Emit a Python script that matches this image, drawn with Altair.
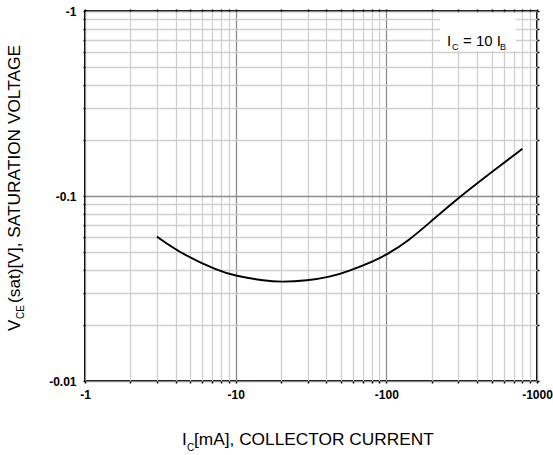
import altair as alt
import pandas as pd

# ---- data ----
IC_MA = [-3, -4.5, -7.5, -10, -15, -20, -30, -42, -57, -82, -100, -140, -200, -300, -500, -800]
VCE_SAT = [-0.0603, -0.048, -0.0398, -0.0369, -0.0350, -0.0342, -0.0349, -0.0364, -0.0394,
           -0.0444, -0.0480, -0.0571, -0.0735, -0.0975, -0.1346, -0.180]

X_GRID = [1, 2, 3, 4, 5, 6, 7, 8, 9, 10, 20, 30, 40, 50, 60, 70, 80, 90,
          100, 200, 300, 400, 500, 600, 700, 800, 900, 1000]
Y_GRID = [0.01, 0.02, 0.03, 0.04, 0.05, 0.06, 0.07, 0.08, 0.09, 0.1,
          0.2, 0.3, 0.4, 0.5, 0.6, 0.7, 0.8, 0.9, 1]
X_DECADES = [1, 10, 100, 1000]
X_TICK_LABELS = ["-1", "-10", "-100", "-1000"]
Y_DECADES = [0.01, 0.1, 1]
Y_TICK_LABELS = ["-0.01", "-0.1", "-1"]

df = pd.DataFrame({"ic": IC_MA, "vce": VCE_SAT})

W, H = 452, 370
FONT = "Liberation Sans"


def label_expr(decades, labels):
    expr = "''"
    for d, l in zip(decades, labels):
        expr = f"datum.value == {d} ? '{l}' : ({expr})"
    return expr


def grid_color(decades):
    return {"condition": {"test": f"indexof({list(decades)}, datum.value) >= 0", "value": "#8c8c8c"},
            "value": "#cfcfcf"}


xs = alt.Scale(type="log", domain=[1, 1000], nice=False)
ys = alt.Scale(type="log", domain=[0.01, 1], nice=False)

xaxis = alt.Axis(values=X_GRID, grid=True, gridColor=grid_color(X_DECADES), gridWidth=1.3,
                 labelExpr=label_expr(X_DECADES, X_TICK_LABELS), labelFont=FONT, labelFontSize=12,
                 labelFontWeight="bold", labelColor="black", labelPadding=6, labelFlush=False,
                 labelOverlap=False, ticks=True, tickSize=2, tickColor="black", tickWidth=1.5,
                 domain=False, title=None)
yaxis = alt.Axis(values=Y_GRID, grid=True, gridColor=grid_color(Y_DECADES), gridWidth=1.3,
                 labelExpr=label_expr(Y_DECADES, Y_TICK_LABELS), labelFont=FONT, labelFontSize=12,
                 labelFontWeight="bold", labelColor="black", labelPadding=7, labelFlush=False,
                 labelOverlap=False, ticks=True, tickSize=2, tickColor="black", tickWidth=1.5,
                 domain=False, title=None)

base = alt.Chart(df).transform_calculate(x="abs(datum.ic)", y="abs(datum.vce)")

line = base.mark_line(color="black", strokeWidth=1.9, interpolate="basis").encode(
    x=alt.X("x:Q", scale=xs, axis=xaxis),
    y=alt.Y("y:Q", scale=ys, axis=yaxis),
)

ticks2 = base.mark_point(opacity=0).encode(
    x=alt.X("x:Q", scale=xs, axis=alt.Axis(orient="top", values=X_GRID, labels=False, grid=False,
                                             tickSize=2, tickColor="black", tickWidth=1.5,
                                             domain=False, title=None)),
    y=alt.Y("y:Q", scale=ys, axis=alt.Axis(orient="right", values=Y_GRID, labels=False, grid=False,
                                             tickSize=2, tickColor="black", tickWidth=1.5,
                                             domain=False, title=None)),
)

one = pd.DataFrame({"a": [0]})


def txt(s, x, y, size, angle=0):
    return alt.Chart(one).mark_text(text=s, font=FONT, fontSize=size, color="black", align="left",
                                    baseline="alphabetic", angle=angle).encode(
        x=alt.value(x), y=alt.value(y))


box = alt.Chart(one).mark_rect(fill="white").encode(
    x=alt.value(355), x2=alt.value(431), y=alt.value(2), y2=alt.value(40))

legend = [
    txt("I", 362, 35, 15), txt("C", 367, 39, 9), txt("= 10 I", 378, 35, 15), txt("B", 415, 39, 9),
]

xtitle = [
    txt("I", 97, 434, 17), txt("C", 102, 440, 10), txt("[mA], COLLECTOR CURRENT", 109, 434, 17.3),
]
ytitle = [
    txt("V", -65, 320, 17, 270), txt("CE", -61, 308, 10, 270),
    txt("(sat)[V], SATURATION VOLTAGE", -65, 292, 17.3, 270),
]

chart = alt.layer(line, ticks2, box, *legend, *xtitle, *ytitle).resolve_axis(
    x="independent", y="independent"
).properties(
    width=W, height=H, autosize="none",
    padding={"left": 85, "top": 11, "right": 16, "bottom": 74},
    background="white",
).configure_view(stroke="black", strokeWidth=2)

chart.save("out.html", embed_options={"renderer": "svg", "actions": False})
